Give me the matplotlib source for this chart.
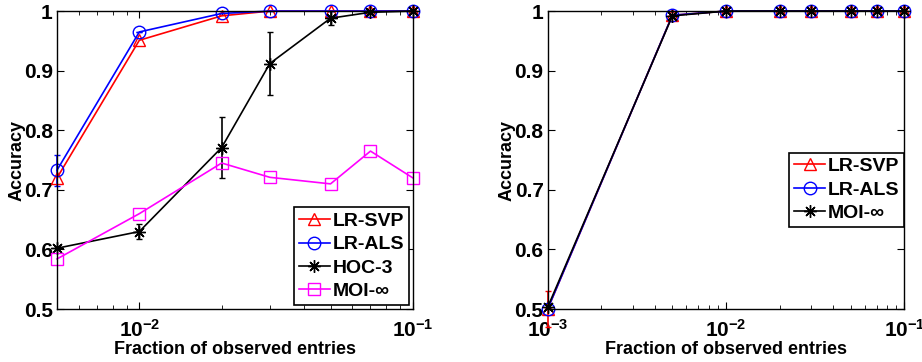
import numpy as np
import matplotlib.pyplot as plt
from matplotlib.lines import Line2D
from matplotlib.ticker import LogLocator, NullFormatter

# left panel data
x_left = [0.005, 0.01, 0.02, 0.03, 0.05, 0.07, 0.1]
svp_left = [0.720, 0.951, 0.992, 1.0, 1.0, 1.0, 1.0]
als_left = [0.733, 0.965, 0.996, 1.0, 1.0, 1.0, 1.0]
als_left_err = [0.026, 0.0, 0.0, 0.0, 0.0, 0.0, 0.0]
hoc_left = [0.602, 0.630, 0.771, 0.912, 0.988, 0.998, 1.0]
hoc_left_err = [0.0, 0.012, 0.051, 0.053, 0.012, 0.003, 0.0]
moi_left = [0.584, 0.660, 0.745, 0.721, 0.710, 0.765, 0.720]

# right panel data
x_right = [0.001, 0.005, 0.01, 0.02, 0.03, 0.05, 0.07, 0.1]
svp_right = [0.500, 0.993, 1.0, 1.0, 1.0, 1.0, 1.0, 1.0]
svp_right_err = [0.03, 0.0, 0.0, 0.0, 0.0, 0.0, 0.0, 0.0]
als_right = [0.500, 0.993, 1.0, 1.0, 1.0, 1.0, 1.0, 1.0]
moi_right = [0.503, 0.992, 1.0, 1.0, 1.0, 1.0, 1.0, 1.0]

plt.rcParams['font.family'] = ['Liberation Sans', 'DejaVu Sans']
plt.rcParams['font.weight'] = 'bold'

fig = plt.figure(figsize=(9.22, 3.62), dpi=100)
ax1 = fig.add_axes([0.0618, 0.1464, 0.386, 0.823])
ax2 = fig.add_axes([0.594, 0.1464, 0.387, 0.823])

star = (8, 2, 0)  # matlab style asterisk
styles = {
    'LR-SVP': ('red', '^'),
    'LR-ALS': ('blue', 'o'),
    'HOC-3': ('black', star),
    'MOI-∞': ('magenta', 's'),
}


def draw(ax, x, y, name, err=None):
    c, m = styles[name]
    line, caps, bars = ax.errorbar(x, y, yerr=err, color=c, marker=m, markersize=9,
                                   markerfacecolor='none', markeredgecolor=c,
                                   linewidth=1.2, capsize=2.5, elinewidth=1.2)
    line.set_clip_on(False)
    for a in caps:
        a.set_clip_on(False)
    for b in bars:
        b.set_clip_on(False)


def handles(names):
    out = []
    for n in names:
        c, m = styles[n]
        out.append(Line2D([], [], color=c, marker=m, markersize=9, markerfacecolor='none',
                          markeredgecolor=c, linewidth=1.2, label=n))
    return out


draw(ax1, x_left, svp_left, 'LR-SVP')
draw(ax1, x_left, als_left, 'LR-ALS', als_left_err)
draw(ax1, x_left, hoc_left, 'HOC-3', hoc_left_err)
draw(ax1, x_left, moi_left, 'MOI-∞')
ax1.set_xlim(0.005, 0.1)

draw(ax2, x_right, svp_right, 'LR-SVP', svp_right_err)
draw(ax2, x_right, als_right, 'LR-ALS')
draw(ax2, x_right, moi_right, 'HOC-3')  # black asterisk, MOI-inf on this panel
ax2.set_xlim(0.001, 0.1)

for ax in (ax1, ax2):
    ax.set_xscale('log')
    ax.set_ylim(0.5, 1.0)
    ax.set_yticks([0.5, 0.6, 0.7, 0.8, 0.9, 1.0])
    ax.set_yticklabels(['0.5', '0.6', '0.7', '0.8', '0.9', '1'])
    ax.xaxis.set_minor_locator(LogLocator(base=10, subs=np.arange(2, 10)))
    ax.xaxis.set_minor_formatter(NullFormatter())
    ax.tick_params(which='both', direction='in', top=True, right=True, labelsize=15)
    ax.tick_params(axis='x', pad=7)
    ax.tick_params(axis='y', pad=3)
    ax.tick_params(which='major', length=5)
    ax.tick_params(which='minor', length=3)
    for lab in ax.get_xticklabels() + ax.get_yticklabels():
        lab.set_fontweight('bold')
    ax.set_xlabel('Fraction of observed entries', fontsize=13, fontweight='bold', labelpad=0)
    ax.set_ylabel('Accuracy', fontsize=13, fontweight='bold', labelpad=-1)
    for s in ax.spines.values():
        s.set_linewidth(1.0)

leg_kw = dict(fontsize=14, handlelength=1.6, handletextpad=0.15, borderpad=0.25,
              labelspacing=0.3, fancybox=False, framealpha=1, edgecolor='black')
leg1 = ax1.legend(handles=handles(['LR-SVP', 'LR-ALS', 'HOC-3', 'MOI-∞']),
                  loc='lower right', borderaxespad=0.2, **leg_kw)
h2 = handles(['LR-SVP', 'LR-ALS', 'HOC-3'])
h2[2].set_label('MOI-∞')
leg2 = ax2.legend(handles=h2, loc='center right', bbox_to_anchor=(1.0, 0.40),
                  borderaxespad=0.0, **leg_kw)
for leg in (leg1, leg2):
    leg.get_frame().set_linewidth(1.2)
    for t in leg.get_texts():
        t.set_fontweight('bold')

fig.savefig('out.png', dpi=100)
